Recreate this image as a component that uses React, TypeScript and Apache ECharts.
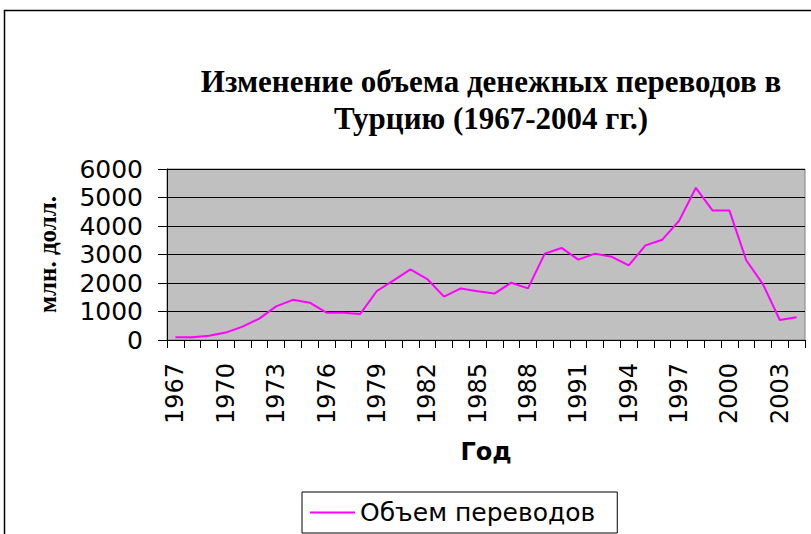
import React, { useEffect, useRef } from "react";
import * as echarts from "echarts";

const years = [
  "1967", "1968", "1969", "1970", "1971", "1972", "1973", "1974", "1975", "1976",
  "1977", "1978", "1979", "1980", "1981", "1982", "1983", "1984", "1985", "1986",
  "1987", "1988", "1989", "1990", "1991", "1992", "1993", "1994", "1995", "1996",
  "1997", "1998", "1999", "2000", "2001", "2002", "2003", "2004",
];

const remittances = [
  100, 100, 150, 260, 470, 750, 1180, 1410, 1310, 960,
  960, 910, 1720, 2090, 2480, 2140, 1520, 1810, 1710, 1630,
  2010, 1810, 3030, 3230, 2820, 3030, 2920, 2620, 3320, 3520,
  4180, 5340, 4540, 4540, 2800, 1950, 700, 800,
];

const titleText = "Изменение объема денежных переводов в\nТурцию (1967-2004 гг.)";
const seriesName = "Объем переводов";
const yAxisName = "млн. долл.";
const xAxisName = "Год";

export default function App() {
  const ref = useRef<HTMLDivElement>(null);
  useEffect(() => {
    if (!ref.current) return;
    const chart = echarts.init(ref.current, undefined, { renderer: "svg" });
    chart.setOption({
      animation: false,
      backgroundColor: "#ffffff",
      graphic: [
        {
          type: "rect",
          shape: { x: 4.5, y: 10.5, width: 900, height: 700 },
          style: { fill: "none", stroke: "#000", lineWidth: 1.5 },
          silent: true,
        },
      ],
      title: {
        text: titleText,
        left: 486,
        top: 58,
        textAlign: "center",
        textStyle: {
          fontFamily: "Liberation Serif",
          fontWeight: "bold",
          fontSize: 31,
          lineHeight: 37,
          color: "#000",
        },
      },
      legend: {
        left: 302,
        top: 492,
        padding: [8, 22, 8, 8],
        borderColor: "#000",
        borderWidth: 1,
        itemWidth: 45,
        itemHeight: 2,
        icon: "rect",
        itemStyle: { color: "#ff00ff" },
        textStyle: { fontFamily: "DejaVu Sans", fontSize: 25, color: "#000" },
        data: [seriesName],
      },
      grid: {
        left: 167,
        top: 169,
        right: 6,
        bottom: 194,
        show: true,
        backgroundColor: "#c0c0c0",
        borderColor: "#808080",
        borderWidth: 1,
      },
      xAxis: {
        type: "category",
        data: years,
        boundaryGap: true,
        name: xAxisName,
        nameLocation: "middle",
        nameGap: 100,
        nameTextStyle: {
          fontFamily: "DejaVu Sans",
          fontWeight: "bold",
          fontSize: 24,
          color: "#000",
        },
        axisLine: { lineStyle: { color: "#000", width: 1 } },
        axisTick: { show: true, interval: 0, alignWithLabel: false, length: 8, lineStyle: { color: "#000" } },
        axisLabel: {
          interval: 2,
          rotate: 90,
          margin: 23,
          fontFamily: "DejaVu Sans",
          fontSize: 24,
          color: "#000",
        },
        splitLine: { show: false },
      },
      yAxis: {
        type: "value",
        min: 0,
        max: 6000,
        interval: 1000,
        name: yAxisName,
        nameLocation: "middle",
        nameRotate: 90,
        nameGap: 107,
        nameTextStyle: {
          fontFamily: "Liberation Serif",
          fontWeight: "bold",
          fontSize: 25,
          color: "#000",
        },
        axisLine: { show: true, lineStyle: { color: "#000", width: 1 } },
        axisTick: { show: true, length: 9, lineStyle: { color: "#000" } },
        axisLabel: {
          margin: 24,
          fontFamily: "DejaVu Sans",
          fontSize: 25,
          color: "#000",
          formatter: (v: number) => String(v),
        },
        splitLine: { show: true, lineStyle: { color: "#000", width: 1 } },
      },
      series: [
        {
          name: seriesName,
          type: "line",
          data: remittances,
          symbol: "none",
          lineStyle: { color: "#ff00ff", width: 2 },
          itemStyle: { color: "#ff00ff" },
        },
      ],
    });
    return () => chart.dispose();
  }, []);
  return (
    <div
      ref={ref}
      style={{ position: "fixed", left: 0, top: 0, width: 811, height: 534 }}
    />
  );
}
